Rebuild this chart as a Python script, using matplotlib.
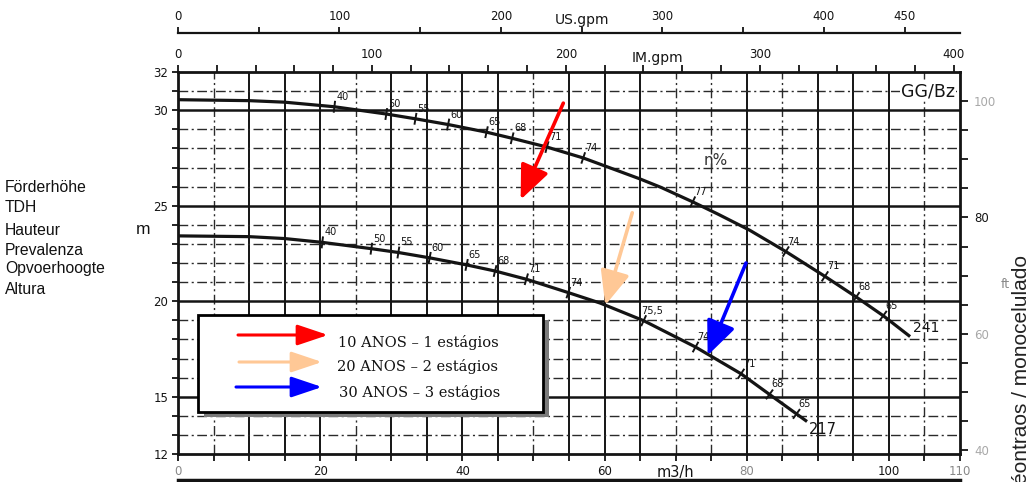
import numpy as np
import matplotlib.pyplot as plt
from matplotlib.lines import Line2D
from matplotlib.patches import Rectangle, FancyArrowPatch
from matplotlib.transforms import blended_transform_factory

# impeller 241 and 217, flow in m3/h, head in m
q_241 = [0, 10, 15, 22.0, 29.3, 33.4, 38.0, 43.4, 47.0, 51.9, 57.0, 65.0, 68.0, 72.4, 76.0, 80.4, 85.5, 91.0, 95.4, 99.2, 102.8]
h_241 = [30.55, 30.5, 30.42, 30.18, 29.8, 29.55, 29.25, 28.85, 28.53, 28.07, 27.5, 26.4, 25.95, 25.2, 24.55, 23.72, 22.6, 21.3, 20.22, 19.24, 18.2]
q_217 = [0, 10, 15, 20.3, 27.2, 31.0, 35.4, 40.6, 44.6, 49.0, 54.9, 59.4, 65.5, 72.8, 79.2, 83.2, 87.0, 88.3]
h_217 = [23.42, 23.38, 23.28, 23.08, 22.75, 22.55, 22.27, 21.9, 21.58, 21.15, 20.45, 19.9, 18.98, 17.6, 16.2, 15.12, 14.1, 13.75]

# efficiency marks (%) along each curve
eff_241 = ["40", "50", "55", "60", "65", "68", "71", "74", "77", "74", "71", "68", "65"]
eff_q_241 = [22.0, 29.3, 33.4, 38.0, 43.4, 47.0, 51.9, 57.0, 72.4, 85.5, 91.0, 95.4, 99.2]
eff_217 = ["40", "50", "55", "60", "65", "68", "71", "74", "75,5", "74", "71", "68", "65"]
eff_q_217 = [20.3, 27.2, 31.0, 35.4, 40.6, 44.6, 49.0, 54.9, 65.5, 72.8, 79.2, 83.2, 87.0]

left_titles = ["Förderhöhe", "TDH", "Hauteur", "Prevalenza", "Opvoerhoogte", "Altura"]
legend_labels = ["10 ANOS – 1 estágios", "20 ANOS – 2 estágios", "30 ANOS – 3 estágios"]
arrow_colors = ["#ff0000", "#ffc896", "#0000ff"]

# arrows pointing at the duty points
arrow_tail_q = [54.2, 63.9, 79.9]
arrow_tail_h = [30.37, 24.63, 22.0]
arrow_tip_q = [48.2, 60.1, 74.5]
arrow_tip_h = [25.32, 19.79, 17.16]

M3H_TO_USGPM = 4.40287
M3H_TO_IMGPM = 3.66615
M_TO_FT = 3.28084

W, H = 1031, 482
ink = "#141414"
faint = "#a8a8a8"
dashdot = (0, (7, 2.5, 1.5, 2.5))

fig = plt.figure(figsize=(W / 100, H / 100), dpi=100)
fig.patch.set_facecolor("white")


def fx(x):
    return x / W


def fy(y):
    return 1 - y / H


ax = fig.add_axes([fx(178), fy(454), 782 / W, 382 / H])
ax.set_xlim(0, 110)
ax.set_ylim(12, 32)

# grid
for q in range(5, 110, 5):
    if q in (5, 25, 50, 70, 75, 85, 105):
        ax.axvline(q, color="#2a2a2a", lw=1.0, ls=dashdot, zorder=1)
    else:
        ax.axvline(q, color=ink, lw=1.4, zorder=1)
for h in range(13, 32):
    if h % 5 == 0:
        ax.axhline(h, color=ink, lw=1.8, zorder=1)
    else:
        ax.axhline(h, color="#2a2a2a", lw=1.0, ls=dashdot, zorder=1)

for s in ax.spines.values():
    s.set_linewidth(2)
    s.set_color(ink)

# bottom axis (m3/h)
xt = list(range(0, 111, 5))
xlab = {0: "0", 20: "20", 40: "40", 60: "60", 70: "m3/h", 80: "80", 100: "100", 110: "110"}
ax.set_xticks(xt)
ax.set_xticklabels([xlab.get(q, "") for q in xt])
ax.tick_params(axis="x", direction="out", length=5, width=1.3, pad=3, labelsize=8.5, colors=ink)
for lbl in ax.get_xticklabels():
    if lbl.get_text() == "m3/h":
        lbl.set_fontsize(10.5)
    if lbl.get_text() in ("0", "110", "80"):
        lbl.set_color("#888888")

# left axis (m)
ax.set_yticks([12, 15, 20, 25, 30, 32])
ax.set_yticks(range(12, 33), minor=True)
ax.tick_params(axis="y", which="both", direction="out", length=4, width=1.3, pad=3, labelsize=8.5, colors=ink)

# IM.gpm along the top of the frame
im = ax.secondary_xaxis("top", functions=(lambda q: q * M3H_TO_IMGPM, lambda g: g / M3H_TO_IMGPM))
im_ticks = list(range(0, 401, 20))
im.set_xticks(im_ticks)
im.set_xticklabels([str(g) if g % 100 == 0 else "" for g in im_ticks])
im.tick_params(direction="out", length=5, width=1.3, pad=3, labelsize=8.5, colors=ink)

# US.gpm on its own line above
us = ax.secondary_xaxis(1.102, functions=(lambda q: q * M3H_TO_USGPM, lambda g: g / M3H_TO_USGPM))
us_ticks = list(range(0, 451, 50))
us.set_xticks(us_ticks)
us.set_xticklabels([str(g) if g in (0, 100, 200, 300, 400, 450) else "" for g in us_ticks])
us.tick_params(direction="out", length=4, width=1.3, pad=3, labelsize=8.5, colors=ink)
for s in us.spines.values():
    s.set_linewidth(1.6)
    s.set_color(ink)

# head in ft on the right
ft = ax.secondary_yaxis("right", functions=(lambda m: m * M_TO_FT, lambda f: f / M_TO_FT))
ft_ticks = list(range(40, 106, 5))
ft.set_yticks(ft_ticks)
ft.set_yticklabels([str(f) if f in (40, 60, 80, 100) else "" for f in ft_ticks])
ft.tick_params(direction="out", length=6, width=1.3, pad=4, labelsize=8.5, colors=ink)
for lbl in ft.get_yticklabels():
    if lbl.get_text() != "80":
        lbl.set_color(faint)

top = blended_transform_factory(ax.transData, ax.transAxes)
ax.text(250 / M3H_TO_USGPM, 1.136, "US.gpm", transform=top, ha="center", va="center", fontsize=10, color=ink)
ax.text(247 / M3H_TO_IMGPM, 1.037, "IM.gpm", transform=top, ha="center", va="center", fontsize=10, color=ink)

# pump curves
ax.plot(q_241, h_241, color=ink, lw=2.3, zorder=3)
ax.plot(q_217, h_217, color=ink, lw=2.3, zorder=3)


def mark_curve(qs, hs, eq, labels):
    for q, lab in zip(eq, labels):
        h = np.interp(q, qs, hs)
        p0 = ax.transData.transform((q - 1, np.interp(q - 1, qs, hs)))
        p1 = ax.transData.transform((q + 1, np.interp(q + 1, qs, hs)))
        d = (p1 - p0) / np.hypot(*(p1 - p0))
        n = np.array([-d[1], d[0]])
        c = ax.transData.transform((q, h))
        a, b = ax.transData.inverted().transform([c - 5 * n, c + 5 * n])
        ax.plot([a[0], b[0]], [a[1], b[1]], color=ink, lw=1.4, zorder=3)
        ax.annotate(lab, (q, h), xytext=(8, 10), textcoords="offset pixels",
                    fontsize=7, ha="center", va="center", color=ink, zorder=3)


mark_curve(q_241, h_241, eff_q_241, eff_241)
mark_curve(q_217, h_217, eff_q_217, eff_217)

ax.annotate("241", (q_241[-1], h_241[-1]), xytext=(4, 8), textcoords="offset pixels",
            fontsize=10, ha="left", va="center", color=ink)
ax.annotate("217", (q_217[-1], h_217[-1]), xytext=(3, -9), textcoords="offset pixels",
            fontsize=10.5, ha="left", va="center", color=ink)

ax.text(105.5, 31, "GG/Bz", fontsize=12.5, ha="center", va="center", color=ink,
        bbox=dict(facecolor="white", edgecolor="none", pad=1), zorder=4)
ax.text(75.7, 27.35, "η%", fontsize=11, ha="center", va="center", color="#333333", zorder=4)

# arrows at the duty points
for tq, th, pq, ph, c in zip(arrow_tail_q, arrow_tail_h, arrow_tip_q, arrow_tip_h, arrow_colors):
    ax.annotate("", xy=(pq, ph), xytext=(tq, th), zorder=6,
                arrowprops=dict(arrowstyle="-|>,head_length=1.4,head_width=0.6", color=c,
                                lw=2.6, mutation_scale=15, shrinkA=0, shrinkB=0))

# legend box with drop shadow
fig.add_artist(Rectangle((fx(204), fy(417)), 345 / W, 97 / H, transform=fig.transFigure,
                         facecolor="#7a7a7a", edgecolor="none", zorder=5))
fig.add_artist(Rectangle((fx(198), fy(412)), 345 / W, 97 / H, transform=fig.transFigure,
                         facecolor="white", edgecolor="black", lw=2, zorder=6))
leg_y = [335, 362, 387]
leg_text_y = [342, 367, 392]
leg_x0 = [238, 239, 236]
leg_x1 = [328, 322, 322]
leg_text_x = [338, 337, 339]
for i, (lab, c) in enumerate(zip(legend_labels, arrow_colors)):
    fig.add_artist(FancyArrowPatch((fx(leg_x0[i]), fy(leg_y[i])), (fx(leg_x1[i]), fy(leg_y[i])),
                                   transform=fig.transFigure,
                                   arrowstyle="-|>,head_length=1.25,head_width=0.42",
                                   mutation_scale=15, color=c, lw=2.2,
                                   shrinkA=0, shrinkB=0, zorder=7))
    fig.text(fx(leg_text_x[i]), fy(leg_text_y[i]), lab, family="DejaVu Serif", fontsize=10.5,
             ha="left", va="center", color="#111111", zorder=7)

# multilingual head titles
for y, t in zip([187, 207, 230, 250, 269, 289], left_titles):
    fig.text(fx(5), fy(y), t, family="Liberation Sans", fontsize=11.3, ha="left", va="center", color="#111111")
fig.text(fx(143), fy(229), "m", family="Liberation Sans", fontsize=12.5, ha="center", va="center", color="#111111")
fig.text(fx(1005), fy(284), "ft", fontsize=9, ha="center", va="center", color="#888888")
fig.text(fx(1012), fy(255), "éontraos / monocelulado", family="Liberation Sans", fontsize=15,
         rotation=90, ha="left", va="top", color="#222222")

fig.add_artist(Line2D([fx(178), fx(960)], [fy(480), fy(480)], transform=fig.transFigure, lw=2.5, color=ink))

fig.savefig("out.png", dpi=100)
